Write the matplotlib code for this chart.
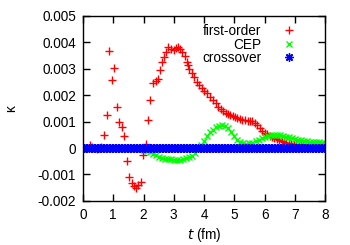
import numpy as np
import matplotlib
matplotlib.use('Agg')
import matplotlib.pyplot as plt

plt.rcParams['font.family'] = ['Liberation Sans', 'DejaVu Sans']
plt.rcParams['font.size'] = 9.8

# first-order (red +), kappa in units of 1e-3
t_first = [0.00, 0.08, 0.15, 0.23, 0.31, 0.38, 0.46, 0.54, 0.61, 0.69,
           0.80, 0.87, 0.96, 1.03, 1.11, 1.20, 1.29, 1.36, 1.44, 1.52,
           1.61, 1.70, 1.75, 1.83, 1.91, 1.99, 2.07, 2.14, 2.21, 2.32,
           2.41, 2.47, 2.55, 2.62, 2.68, 2.74, 2.82, 2.91, 3.00, 3.06,
           3.13, 3.20, 3.28, 3.37, 3.43, 3.46, 3.51, 3.59, 3.68, 3.76,
           3.83, 3.92, 4.01, 4.09, 4.20, 4.31, 4.39, 4.47, 4.55, 4.63,
           4.71, 4.79, 4.86, 4.94, 5.02, 5.10, 5.19, 5.27, 5.36, 5.44,
           5.52, 5.60, 5.68, 5.76, 5.85, 5.93, 6.01, 6.09, 6.17, 6.24,
           6.32, 6.40, 6.48, 6.56, 6.64, 6.72, 6.80, 6.88, 6.96, 7.04,
           7.12, 7.20, 7.28, 7.36, 7.44, 7.52, 7.60, 7.68, 7.76, 7.84,
           7.92, 8.00]
k_first = [0.00, 0.00, 0.02, 0.11, 0.03, 0.00, -0.02, 0.00, 0.05, 0.49,
           1.24, 3.69, 2.58, 3.02, 1.54, 1.00, 0.81, 0.45, -0.48, -1.09,
           -1.34, -1.43, -1.50, -1.40, -1.28, -0.27, 0.16, 1.05, 1.82, 2.45,
           2.55, 2.60, 2.95, 3.27, 3.46, 3.65, 3.81, 3.75, 3.71, 3.78,
           3.84, 3.75, 3.65, 3.48, 3.27, 3.14, 2.98, 2.83, 2.70, 2.51,
           2.39, 2.26, 2.16, 2.07, 1.94, 1.82, 1.70, 1.56, 1.48, 1.40,
           1.33, 1.28, 1.25, 1.20, 1.16, 1.12, 1.09, 1.07, 1.06, 1.04,
           1.03, 1.01, 0.95, 0.86, 0.76, 0.66, 0.58, 0.52, 0.47, 0.43,
           0.39, 0.35, 0.31, 0.27, 0.23, 0.20, 0.18, 0.16, 0.15, 0.14,
           0.13, 0.13, 0.12, 0.12, 0.11, 0.11, 0.11, 0.10, 0.10, 0.10,
           0.10, 0.10]

# CEP (green x), sampled every 0.1 fm
t_cep = np.round(np.arange(0, 8.001, 0.1), 2)
k_cep = [0.00, 0.00, 0.00, 0.00, 0.00, 0.00, 0.00, 0.00, 0.00, 0.00,
         0.00, 0.00, 0.00, 0.00, 0.00, 0.00, 0.00, 0.00, 0.00, -0.02,
         -0.06, -0.10, -0.15, -0.22, -0.28, -0.33, -0.37, -0.40, -0.42, -0.43,
         -0.44, -0.44, -0.44, -0.42, -0.39, -0.35, -0.29, -0.18, -0.02, 0.13,
         0.28, 0.45, 0.60, 0.70, 0.78, 0.84, 0.86, 0.84, 0.76, 0.62,
         0.45, 0.32, 0.24, 0.19, 0.17, 0.18, 0.21, 0.26, 0.31, 0.37,
         0.42, 0.46, 0.48, 0.49, 0.49, 0.48, 0.46, 0.43, 0.40, 0.37,
         0.34, 0.31, 0.29, 0.27, 0.25, 0.24, 0.23, 0.22, 0.22, 0.21,
         0.21]

# crossover (blue *), flat at zero
t_cross = np.round(np.arange(0, 8.001, 0.05), 2)
k_cross = np.zeros(len(t_cross))

fig = plt.figure(figsize=(3.5, 2.45), dpi=100)
ax = fig.add_axes([0.237, 0.180, 0.692, 0.755])

ax.plot(t_first, np.array(k_first) * 1e-3, ls='none', marker='+', ms=6,
        mew=1.0, color='#ff0000', label='first-order')
ax.plot(t_cep, np.array(k_cep) * 1e-3, ls='none', marker='x', ms=4.2,
        mew=1.0, color='#00ff00', label='CEP')
ax.plot(t_cross, k_cross, ls='none', marker=(8, 2, 0), ms=6,
        mew=1.0, color='#0000ff', label='crossover')

ax.set_xlim(0, 8)
ax.set_ylim(-0.002, 0.005)
ax.set_xticks(range(0, 9))
ax.set_yticks([-0.002, -0.001, 0, 0.001, 0.002, 0.003, 0.004, 0.005])
ax.set_yticklabels(['-0.002', '-0.001', '0', '0.001', '0.002', '0.003',
                    '0.004', '0.005'])
ax.tick_params(direction='in', top=True, right=True, length=5, width=1,
               pad=5)
for s in ax.spines.values():
    s.set_linewidth(1.0)

ax.set_xlabel(r'$t$ (fm)', labelpad=3)
ax.set_ylabel('κ', rotation=90, labelpad=14)

ax.legend(loc='upper right', bbox_to_anchor=(0.893, 0.955), frameon=False,
          markerfirst=False, numpoints=1, handlelength=1.5,
          handletextpad=1.3, labelspacing=-0.05, borderpad=0,
          borderaxespad=0, fontsize=9.8)

fig.savefig('out.png', dpi=100)
